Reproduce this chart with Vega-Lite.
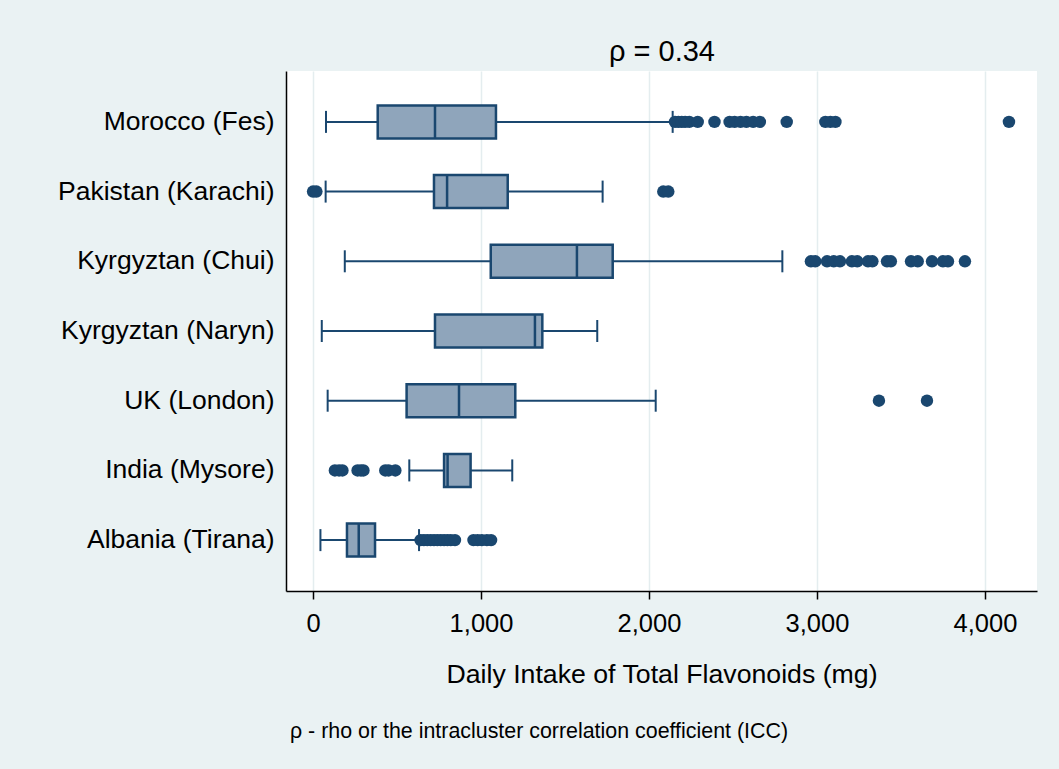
{
  "$schema": "https://vega.github.io/schema/vega-lite/v6.json",
  "width": 751,
  "height": 520,
  "autosize": "none",
  "padding": {"left": 286, "top": 71, "right": 22, "bottom": 178},
  "background": "#EAF2F3",
  "title": {
    "text": "ρ - rho or the intracluster correlation coefficient (ICC)",
    "orient": "bottom",
    "anchor": "start",
    "frame": "group",
    "font": "Liberation Sans",
    "fontSize": 21.4,
    "fontWeight": "normal",
    "color": "#000000",
    "offset": 33,
    "dx": 4
  },
  "config": {
    "view": {"stroke": null, "fill": "#FFFFFF"},
    "font": "Liberation Sans"
  },
  "datasets": {
    "boxes": [
      {"group": "Morocco (Fes)", "lower": 77, "q1": 385, "median": 726, "q3": 1089, "upper": 2141},
      {"group": "Pakistan (Karachi)", "lower": 75, "q1": 720, "median": 798, "q3": 1159, "upper": 1724},
      {"group": "Kyrgyztan (Chui)", "lower": 189, "q1": 1058, "median": 1571, "q3": 1784, "upper": 2794},
      {"group": "Kyrgyztan (Naryn)", "lower": 52, "q1": 726, "median": 1321, "q3": 1365, "upper": 1692},
      {"group": "UK (London)", "lower": 87, "q1": 557, "median": 869, "q3": 1204, "upper": 2040},
      {"group": "India (Mysore)", "lower": 573, "q1": 780, "median": 801, "q3": 938, "upper": 1186},
      {"group": "Albania (Tirana)", "lower": 44, "q1": 202, "median": 272, "q3": 369, "upper": 631}
    ],
    "outliers": [
      {"group": "Morocco (Fes)", "value": 2155},
      {"group": "Morocco (Fes)", "value": 2175},
      {"group": "Morocco (Fes)", "value": 2195},
      {"group": "Morocco (Fes)", "value": 2215},
      {"group": "Morocco (Fes)", "value": 2240},
      {"group": "Morocco (Fes)", "value": 2290},
      {"group": "Morocco (Fes)", "value": 2390},
      {"group": "Morocco (Fes)", "value": 2480},
      {"group": "Morocco (Fes)", "value": 2510},
      {"group": "Morocco (Fes)", "value": 2545},
      {"group": "Morocco (Fes)", "value": 2580},
      {"group": "Morocco (Fes)", "value": 2620},
      {"group": "Morocco (Fes)", "value": 2660},
      {"group": "Morocco (Fes)", "value": 2820},
      {"group": "Morocco (Fes)", "value": 3050},
      {"group": "Morocco (Fes)", "value": 3080},
      {"group": "Morocco (Fes)", "value": 3110},
      {"group": "Morocco (Fes)", "value": 4143},
      {"group": "Pakistan (Karachi)", "value": 0},
      {"group": "Pakistan (Karachi)", "value": 20},
      {"group": "Pakistan (Karachi)", "value": 2085},
      {"group": "Pakistan (Karachi)", "value": 2115},
      {"group": "Kyrgyztan (Chui)", "value": 2964},
      {"group": "Kyrgyztan (Chui)", "value": 2990},
      {"group": "Kyrgyztan (Chui)", "value": 3060},
      {"group": "Kyrgyztan (Chui)", "value": 3100},
      {"group": "Kyrgyztan (Chui)", "value": 3137},
      {"group": "Kyrgyztan (Chui)", "value": 3208},
      {"group": "Kyrgyztan (Chui)", "value": 3240},
      {"group": "Kyrgyztan (Chui)", "value": 3304},
      {"group": "Kyrgyztan (Chui)", "value": 3330},
      {"group": "Kyrgyztan (Chui)", "value": 3417},
      {"group": "Kyrgyztan (Chui)", "value": 3440},
      {"group": "Kyrgyztan (Chui)", "value": 3560},
      {"group": "Kyrgyztan (Chui)", "value": 3600},
      {"group": "Kyrgyztan (Chui)", "value": 3685},
      {"group": "Kyrgyztan (Chui)", "value": 3750},
      {"group": "Kyrgyztan (Chui)", "value": 3780},
      {"group": "Kyrgyztan (Chui)", "value": 3881},
      {"group": "UK (London)", "value": 3369},
      {"group": "UK (London)", "value": 3655},
      {"group": "India (Mysore)", "value": 130},
      {"group": "India (Mysore)", "value": 155},
      {"group": "India (Mysore)", "value": 175},
      {"group": "India (Mysore)", "value": 265},
      {"group": "India (Mysore)", "value": 285},
      {"group": "India (Mysore)", "value": 300},
      {"group": "India (Mysore)", "value": 430},
      {"group": "India (Mysore)", "value": 450},
      {"group": "India (Mysore)", "value": 490},
      {"group": "Albania (Tirana)", "value": 640},
      {"group": "Albania (Tirana)", "value": 660},
      {"group": "Albania (Tirana)", "value": 680},
      {"group": "Albania (Tirana)", "value": 700},
      {"group": "Albania (Tirana)", "value": 720},
      {"group": "Albania (Tirana)", "value": 740},
      {"group": "Albania (Tirana)", "value": 760},
      {"group": "Albania (Tirana)", "value": 780},
      {"group": "Albania (Tirana)", "value": 800},
      {"group": "Albania (Tirana)", "value": 820},
      {"group": "Albania (Tirana)", "value": 845},
      {"group": "Albania (Tirana)", "value": 955},
      {"group": "Albania (Tirana)", "value": 980},
      {"group": "Albania (Tirana)", "value": 1005},
      {"group": "Albania (Tirana)", "value": 1035},
      {"group": "Albania (Tirana)", "value": 1060}
    ]
  },
  "encoding": {
    "y": {
      "field": "group",
      "type": "nominal",
      "sort": ["Morocco (Fes)", "Pakistan (Karachi)", "Kyrgyztan (Chui)", "Kyrgyztan (Naryn)", "UK (London)", "India (Mysore)", "Albania (Tirana)"],
      "scale": {"paddingInner": 0, "paddingOuter": 0.23},
      "axis": {
        "title": null,
        "ticks": false,
        "tickSize": 0,
        "grid": false,
        "labelPadding": 12,
        "labelFontSize": 26.5,
        "labelColor": "#000000",
        "labelLimit": 400,
        "domainColor": "#000000",
        "domainWidth": 1.5
      }
    }
  },
  "layer": [
    {
      "data": {"name": "boxes"},
      "mark": {"type": "rule", "color": "#1A476F", "strokeWidth": 2},
      "encoding": {
        "x": {
          "field": "lower",
          "type": "quantitative",
          "scale": {"domain": [-161, 4310], "nice": false, "zero": false},
          "axis": {
            "orient": "bottom",
            "values": [0, 1000, 2000, 3000, 4000],
            "format": ",.0f",
            "title": "Daily Intake of Total Flavonoids (mg)",
            "titleFontSize": 26.7,
            "titleFontWeight": "normal",
            "titleColor": "#000000",
            "titlePadding": 25,
            "labelFontSize": 25.5,
            "labelColor": "#000000",
            "labelPadding": 12,
            "tickSize": 8,
            "tickColor": "#000000",
            "tickWidth": 1.5,
            "domainColor": "#000000",
            "domainWidth": 1.5,
            "grid": true,
            "gridColor": "#E4EDEF",
            "gridWidth": 1.5
          }
        },
        "x2": {"field": "upper"}
      }
    },
    {
      "data": {"name": "boxes"},
      "mark": {"type": "bar", "size": 33, "fill": "#8FA5BB", "stroke": "#1A476F", "strokeWidth": 2.5},
      "encoding": {
        "x": {"field": "q1", "type": "quantitative", "axis": null},
        "x2": {"field": "q3"}
      }
    },
    {
      "data": {"name": "boxes"},
      "mark": {"type": "tick", "size": 33, "thickness": 2.5, "color": "#1A476F", "opacity": 1},
      "encoding": {
        "x": {"field": "median", "type": "quantitative", "axis": null}
      }
    },
    {
      "data": {"name": "boxes"},
      "mark": {"type": "tick", "size": 22, "thickness": 2, "color": "#1A476F", "opacity": 1},
      "encoding": {
        "x": {"field": "lower", "type": "quantitative", "axis": null}
      }
    },
    {
      "data": {"name": "boxes"},
      "mark": {"type": "tick", "size": 22, "thickness": 2, "color": "#1A476F", "opacity": 1},
      "encoding": {
        "x": {"field": "upper", "type": "quantitative", "axis": null}
      }
    },
    {
      "data": {"name": "outliers"},
      "mark": {"type": "circle", "size": 155, "color": "#1A476F", "opacity": 1},
      "encoding": {
        "x": {
          "field": "value",
          "type": "quantitative",
          "axis": {
            "orient": "top",
            "title": "ρ = 0.34",
            "titleFontSize": 29,
            "titleFontWeight": "normal",
            "titleColor": "#000000",
            "titlePadding": 5,
            "labels": false,
            "ticks": false,
            "tickSize": 0,
            "domain": false,
            "grid": false
          }
        }
      }
    }
  ],
  "resolve": {"axis": {"x": "independent"}}
}
